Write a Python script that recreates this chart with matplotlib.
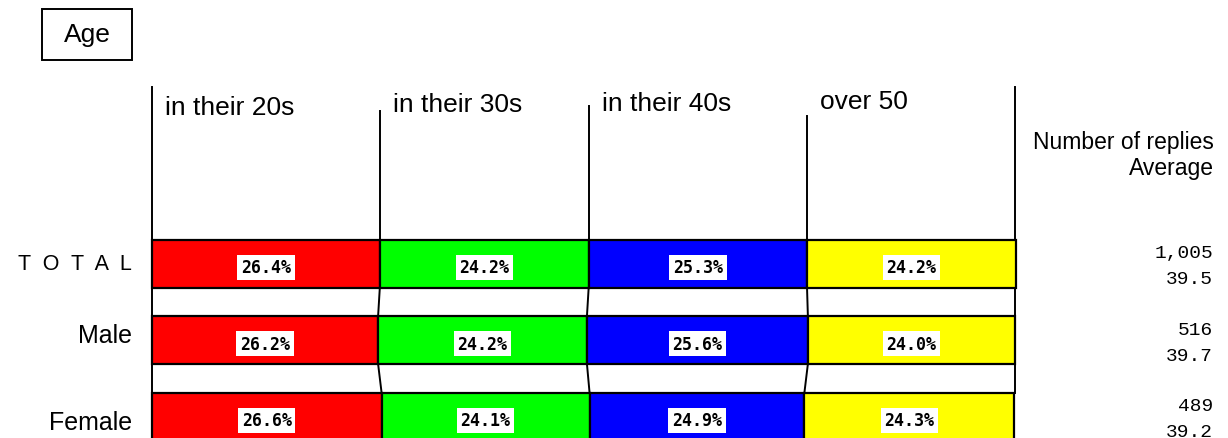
import matplotlib.pyplot as plt
from matplotlib.patches import Rectangle

# ---- data ----
groups = ['T  O  T  A  L', 'Male', 'Female']
ages = ['in their 20s', 'in their 30s', 'in their 40s', 'over 50']
colors = ['#ff0000', '#00ff00', '#0000ff', '#ffff00']
total_pct = [26.4, 24.2, 25.3, 24.2]
male_pct = [26.2, 24.2, 25.6, 24.0]
female_pct = [26.6, 24.1, 24.9, 24.3]
replies = ['1,005', '516', '489']
averages = ['39.5', '39.7', '39.2']

W, H = 1228, 439
SANS = 'Liberation Sans'
MONO = 'Liberation Mono'

# layout in pixels
bar_left_px, bar_right_px = 152, 1015
row0_px, row_step_px, bar_h_px = 264.5, 76.5, 48
header_top_px = [88, 112, 107, 117, 88]
header_label_px = [108, 105, 104, 102]
group_label_dy = [0.0, -0.07, 0.07]
group_label_size = [15.5, 18, 18]


def px_to_y(py):
    """ pixel row -> data y (row units) """
    return (py - row0_px) / row_step_px


def main():
    fig = plt.figure(figsize=(W / 100, H / 100), dpi=100)
    ax = fig.add_axes([0, 0, 1, 1])
    ax.axis('off')

    unit = (bar_right_px - bar_left_px) / 100.0
    ax.set_xlim(-bar_left_px / unit, (W - bar_left_px) / unit)
    ax.set_ylim(px_to_y(H), px_to_y(0))
    bar_h = bar_h_px / row_step_px

    rows = [total_pct, male_pct, female_pct]
    bounds = []
    for i, vals in enumerate(rows):
        left = 0.0
        edges = [0.0]
        for j, v in enumerate(vals):
            ax.barh(i, v, left=left, height=bar_h, color=colors[j],
                    edgecolor='black', linewidth=1.6, zorder=2)
            ax.text(left + v / 2, i + 0.05, '%.1f%%' % v, ha='center', va='center',
                    family='DejaVu Sans Mono', fontsize=12, fontweight='bold',
                    zorder=4,
                    bbox=dict(boxstyle='square,pad=0.22', fc='white', ec='none'))
            left += v
            edges.append(left)
        edges[-1] = 100.0
        bounds.append(edges)

    # header lines and labels
    for k, x in enumerate(bounds[0]):
        ax.plot([x, x], [px_to_y(header_top_px[k]), -bar_h / 2], color='black',
                lw=1.4, zorder=1)
    for k, name in enumerate(ages):
        ax.text(bounds[0][k] + 13 / unit, px_to_y(header_label_px[k]), name,
                ha='left', va='center', family=SANS, fontsize=19)

    # connectors between rows
    for i in range(len(rows) - 1):
        for a, b in zip(bounds[i], bounds[i + 1]):
            ax.plot([a, b], [i + bar_h / 2, i + 1 - bar_h / 2], color='black',
                    lw=1.4, zorder=1)

    # row labels and right-hand numbers
    for i, g in enumerate(groups):
        ax.text(-20 / unit, i + group_label_dy[i], g, ha='right', va='center',
                family=SANS, fontsize=group_label_size[i])
        ax.text((1213 - bar_left_px) / unit, i - 0.14, replies[i], ha='right',
                va='center', family=MONO, fontsize=14)
        ax.text((1213 - bar_left_px) / unit, i + 0.2, averages[i], ha='right',
                va='center', family=MONO, fontsize=14)

    fig.text(1214 / W, 1 - 143 / H, 'Number of replies', ha='right', va='center',
             family=SANS, fontsize=16.5)
    fig.text(1214 / W, 1 - 168 / H, 'Average', ha='right', va='center',
             family=SANS, fontsize=16.5)

    # "Age" box
    fig.patches.append(Rectangle((42 / W, 1 - 61 / H), 90 / W, 51 / H,
                                 transform=fig.transFigure, fill=False,
                                 edgecolor='black', linewidth=1.4))
    fig.text(87 / W, 1 - 35 / H, 'Age', ha='center', va='center', family=SANS,
             fontsize=19)

    fig.savefig('out.png', dpi=100, facecolor='white')


if __name__ == '__main__':
    main()
